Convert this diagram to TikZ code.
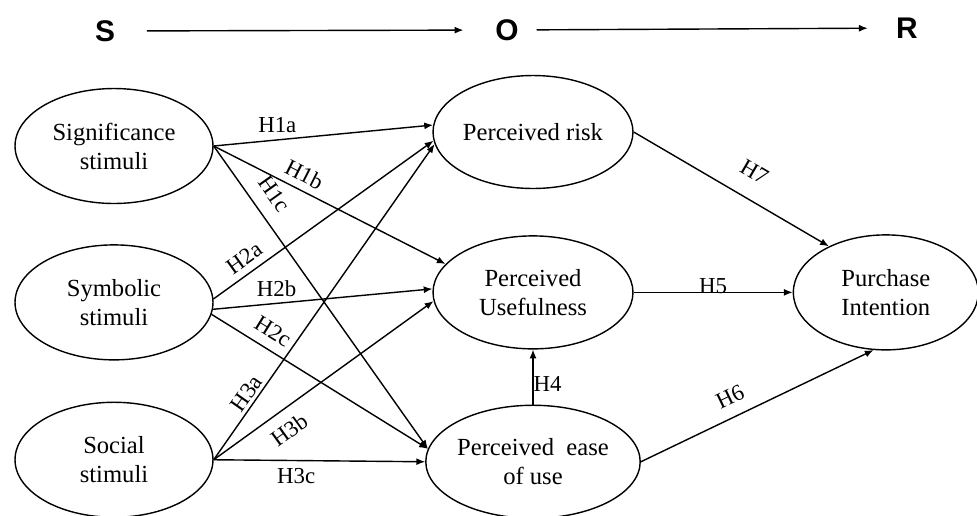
\documentclass[tikz,border=0pt]{standalone}
\usepackage{fontspec}
\setmainfont{Liberation Serif}
\newfontfamily\hdrfont{Liberation Sans}
\usetikzlibrary{positioning,arrows.meta,shapes.geometric}

\begin{document}
\begin{tikzpicture}[x=0.02cm, y=-0.02cm,
        construct/.style={ellipse, draw, line width=0.8pt, inner sep=0pt, minimum width=4cm, minimum height=2.26cm, align=center, font=\fontsize{14}{16.5}\selectfont},
        hyp/.style={-{Latex[length=5pt,width=4pt]}, line width=0.8pt},
        hlabel/.style={font=\fontsize{13}{15}\selectfont, inner sep=1.5pt},
        sor/.style={font=\hdrfont\bfseries\fontsize{17}{19}\selectfont, inner sep=0pt}]
        \useasboundingbox (0,0) rectangle (977,515);

        %% S -> O -> R
        \node[sor] (S) at (105,31) {S};
        \node[sor] (O) at (507,30) {O};
        \node[sor] (R) at (907,28) {R};
        \draw[hyp, shorten <=18pt, shorten >=18pt] (S) -- (O);
        \draw[hyp, shorten <=10pt, shorten >=16pt] (O) -- (R);

        %% Stimuli
        \node[construct, minimum width=3.96cm, minimum height=2.3cm] (sig) at (114,146) {Significance\\stimuli};
        \node[construct, minimum width=3.96cm, minimum height=2.3cm, below=0.8cm of sig] (sym) {Symbolic\\stimuli};
        \node[construct, minimum width=3.96cm, minimum height=2.3cm, below=0.82cm of sym] (soc) {Social\\stimuli};

        %% Organism
        \node[construct] (risk) at (533,132) {Perceived risk};
        \node[construct, below=0.92cm of risk] (useful) {Perceived\\Usefulness};
        \node[construct, below=1.1cm of useful] (ease) {Perceived\ \ ease\\of use};

        %% Response
        \node[construct, minimum width=3.7cm, minimum height=2.3cm, right=3.18cm of useful] (purchase) {Purchase\\Intention};

        %% Hypotheses
        \draw[hyp] (sig.east) -- node[hlabel, above=2pt, pos=0.29] {H1a} (risk.176);
        \draw[hyp] (sig.east) -- node[hlabel, above=2.5pt, sloped, pos=0.36] {H1b} (useful.162);
        \draw[hyp] (sig.east) -- node[hlabel, above=6pt, sloped, pos=0.2] {H1c} (ease.173);
        \draw[hyp] (sym.2) -- node[hlabel, above=2.5pt, sloped, pos=0.18] {H2a} (risk.185);
        \draw[hyp] (sym.-4) -- node[hlabel, above=2pt, pos=0.29] {H2b} (useful.178);
        \draw[hyp] (sym.-7) -- node[hlabel, above=4pt, sloped, pos=0.24] {H2c} (ease.173);
        \draw[hyp] (soc.east) -- node[hlabel, above=0pt, sloped, pos=0.19] {H3a} (risk.187);
        \draw[hyp] (soc.east) -- node[hlabel, below=5pt, sloped, pos=0.29] {H3b} (useful.185);
        \draw[hyp] (soc.east) -- node[hlabel, below=2.5pt, pos=0.39] {H3c} (ease.180);

        \draw[hyp] (ease.north) -- node[hlabel, right, inner sep=0pt, pos=0.38] {H4} (useful.south);
        \draw[hyp] (useful.east) -- node[hlabel, above, inner sep=0pt, yshift=-1pt] {H5} (purchase.west);
        \draw[hyp] (risk.east) -- node[hlabel, above=9pt, sloped, pos=0.55] {H7} (purchase.141);
        \draw[hyp] (ease.east) -- node[hlabel, above=5pt, sloped, pos=0.42] {H6} (purchase.258);
\end{tikzpicture}
\end{document}
